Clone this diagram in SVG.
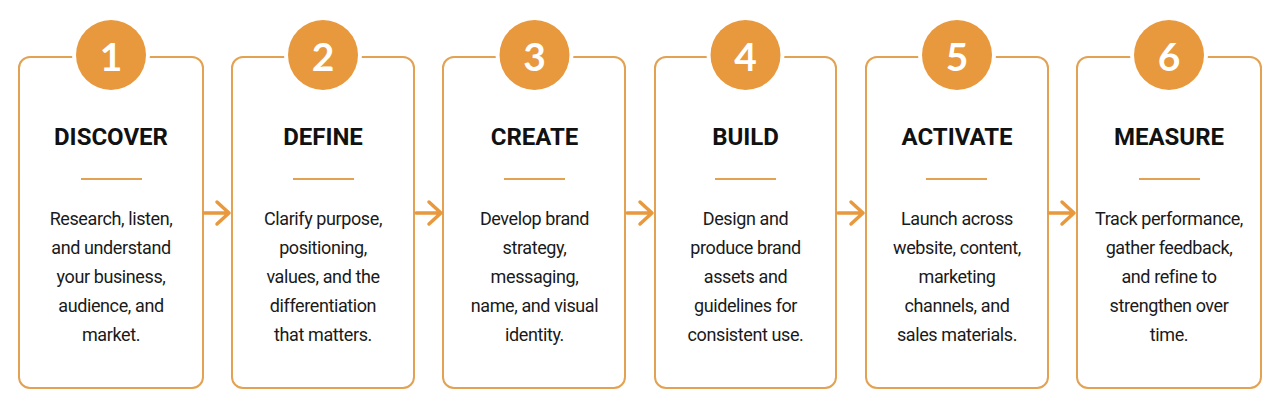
<svg xmlns="http://www.w3.org/2000/svg" width="1280" height="409" viewBox="0 0 1280 409">
<defs>
<style>
.card{fill:#fff;stroke:#E2A252;stroke-width:2}
.mask{fill:#fff}
.badge{fill:#E8983D}
.num{font-family:Lato,"Liberation Sans",sans-serif;font-weight:700;font-size:39px;fill:#fff;text-anchor:middle}
.title{font-family:Roboto,"Liberation Sans",sans-serif;font-weight:700;font-size:24px;fill:#111;text-anchor:middle}
.div{stroke:#E2A252;stroke-width:2}
.body{font-family:Roboto,"Liberation Sans",sans-serif;font-size:18px;letter-spacing:-0.4px;fill:#1a1a1a;text-anchor:middle}
.arr{fill:none;stroke:#E8983D;stroke-width:3.5;stroke-linecap:round;stroke-linejoin:round}
</style>
</defs>
<rect width="1280" height="409" fill="#fff"/>
<g id="step1">
<rect class="card" x="19" y="57" width="184" height="331" rx="11"/>
<circle class="mask" cx="111" cy="55" r="39"/>
<circle class="badge" cx="111" cy="55" r="35"/>
<text class="num" x="111" y="71">1</text>
<text class="title" x="111" y="145">DISCOVER</text>
<line class="div" x1="81" y1="179" x2="142" y2="179"/>
<text class="body"><tspan x="111" y="225">Research, listen,</tspan><tspan x="111" y="254">and understand</tspan><tspan x="111" y="283">your business,</tspan><tspan x="111" y="312">audience, and</tspan><tspan x="111" y="341">market.</tspan></text>
</g>
<g id="step2">
<rect class="card" x="232" y="57" width="182" height="331" rx="11"/>
<circle class="mask" cx="323" cy="55" r="39"/>
<circle class="badge" cx="323" cy="55" r="35"/>
<text class="num" x="323" y="71">2</text>
<text class="title" x="323" y="145">DEFINE</text>
<line class="div" x1="293" y1="179" x2="354" y2="179"/>
<text class="body"><tspan x="323" y="225">Clarify purpose,</tspan><tspan x="323" y="254">positioning,</tspan><tspan x="323" y="283">values, and the</tspan><tspan x="323" y="312">differentiation</tspan><tspan x="323" y="341">that matters.</tspan></text>
</g>
<g id="step3">
<rect class="card" x="443" y="57" width="182" height="331" rx="11"/>
<circle class="mask" cx="534.5" cy="55" r="39"/>
<circle class="badge" cx="534.5" cy="55" r="35"/>
<text class="num" x="534.5" y="71">3</text>
<text class="title" x="534.5" y="145">CREATE</text>
<line class="div" x1="504" y1="179" x2="565" y2="179"/>
<text class="body"><tspan x="534.5" y="225">Develop brand</tspan><tspan x="534.5" y="254">strategy,</tspan><tspan x="534.5" y="283">messaging,</tspan><tspan x="534.5" y="312">name, and visual</tspan><tspan x="534.5" y="341">identity.</tspan></text>
</g>
<g id="step4">
<rect class="card" x="655" y="57" width="181" height="331" rx="11"/>
<circle class="mask" cx="745.5" cy="55" r="39"/>
<circle class="badge" cx="745.5" cy="55" r="35"/>
<text class="num" x="745.5" y="71">4</text>
<text class="title" x="745.5" y="145">BUILD</text>
<line class="div" x1="715" y1="179" x2="776" y2="179"/>
<text class="body"><tspan x="745.5" y="225">Design and</tspan><tspan x="745.5" y="254">produce brand</tspan><tspan x="745.5" y="283">assets and</tspan><tspan x="745.5" y="312">guidelines for</tspan><tspan x="745.5" y="341">consistent use.</tspan></text>
</g>
<g id="step5">
<rect class="card" x="866" y="57" width="182" height="331" rx="11"/>
<circle class="mask" cx="957" cy="55" r="39"/>
<circle class="badge" cx="957" cy="55" r="35"/>
<text class="num" x="957" y="71">5</text>
<text class="title" x="957" y="145">ACTIVATE</text>
<line class="div" x1="926" y1="179" x2="987" y2="179"/>
<text class="body"><tspan x="957" y="225">Launch across</tspan><tspan x="957" y="254">website, content,</tspan><tspan x="957" y="283">marketing</tspan><tspan x="957" y="312">channels, and</tspan><tspan x="957" y="341">sales materials.</tspan></text>
</g>
<g id="step6">
<rect class="card" x="1077" y="57" width="184" height="331" rx="11"/>
<circle class="mask" cx="1169" cy="55" r="39"/>
<circle class="badge" cx="1169" cy="55" r="35"/>
<text class="num" x="1169" y="71">6</text>
<text class="title" x="1169" y="145">MEASURE</text>
<line class="div" x1="1139" y1="179" x2="1200" y2="179"/>
<text class="body"><tspan x="1169" y="225">Track performance,</tspan><tspan x="1169" y="254">gather feedback,</tspan><tspan x="1169" y="283">and refine to</tspan><tspan x="1169" y="312">strengthen over</tspan><tspan x="1169" y="341">time.</tspan></text>
</g>
<g id="connectors">
<path class="arr" d="M204 213H229M217 202L229 213L217 224"/>
<path class="arr" d="M416 213H441M429 202L441 213L429 224"/>
<path class="arr" d="M627 213H652M640 202L652 213L640 224"/>
<path class="arr" d="M838 213H863M851 202L863 213L851 224"/>
<path class="arr" d="M1049 213H1074M1062 202L1074 213L1062 224"/>
</g>
</svg>
